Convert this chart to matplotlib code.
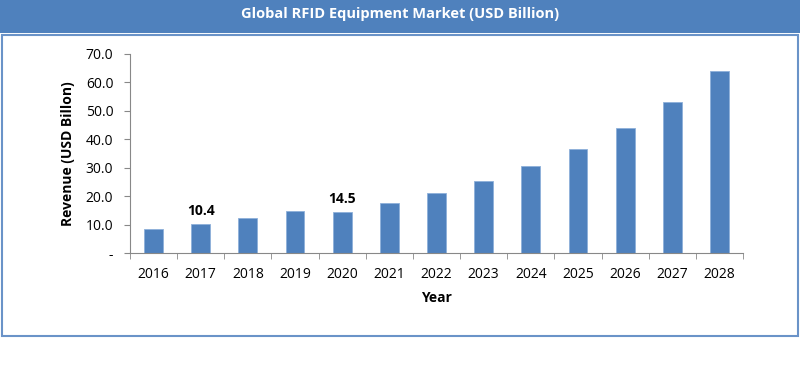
import numpy as np
import matplotlib.pyplot as plt
from matplotlib.patches import Rectangle

years = ['2016', '2017', '2018', '2019', '2020', '2021', '2022',
         '2023', '2024', '2025', '2026', '2027', '2028']
revenue = [8.6, 10.4, 12.4, 14.9, 14.5, 17.5, 21.1, 25.3, 30.5, 36.7, 44.1, 53.2, 64.0]
labelled = {'2017': '10.4', '2020': '14.5'}
yticks = [0, 10, 20, 30, 40, 50, 60, 70]
ytick_labels = ['-', '10.0', '20.0', '30.0', '40.0', '50.0', '60.0', '70.0']

blue = '#4F81BD'
plt.rcParams['font.family'] = ['Open Sans', 'DejaVu Sans']

fig = plt.figure(figsize=(8, 3.76), dpi=100)

# title band and outer frame
fig.patches.append(Rectangle((0, 1 - 33 / 376), 1, 33 / 376, transform=fig.transFigure,
                             facecolor=blue, edgecolor='none', zorder=0))
fig.patches.append(Rectangle((1.5 / 800, 1 - 336 / 376), 796 / 800, 301 / 376,
                             transform=fig.transFigure, facecolor='none',
                             edgecolor='#6A93C8', linewidth=1.5, zorder=0))
fig.text(0.5, 1 - 14 / 376, 'Global RFID Equipment Market (USD Billion)',
         color='white', fontsize=10.5, fontweight='bold', ha='center', va='center')

ax = fig.add_axes([130 / 800, 1 - 253.3 / 376, 613 / 800, 199.6 / 376])
x = np.arange(len(years))
ax.bar(x, revenue, width=0.4, color=blue, edgecolor='#8EB0DA', linewidth=0.6, zorder=2)

for i, y in enumerate(years):
    if y in labelled:
        ax.text(i, revenue[i] + 2.0, labelled[y], ha='center', va='bottom',
                fontsize=10, fontweight='bold')

ax.set_xlim(-0.5, len(years) - 0.5)
ax.set_ylim(0, 70)
ax.set_yticks(yticks)
ax.set_yticklabels(ytick_labels, fontsize=10)
ax.set_xticks(x)
ax.set_xticklabels(years, fontsize=10)
ax.tick_params(axis='x', length=0, pad=10)
ax.set_xticks(np.arange(len(years) + 1) - 0.5, minor=True)
ax.tick_params(axis='x', which='minor', length=4, color='#888888', direction='out')
ax.tick_params(axis='y', length=4, color='#888888', pad=8)

for s in ['top', 'right']:
    ax.spines[s].set_visible(False)
for s in ['left', 'bottom']:
    ax.spines[s].set_color('#888888')

ax.set_ylabel('Revenue (USD Billon)', fontsize=10, fontweight='bold', labelpad=8)
ax.set_xlabel('Year', fontsize=10, fontweight='bold', labelpad=6)

fig.savefig('out.png', dpi=100)
